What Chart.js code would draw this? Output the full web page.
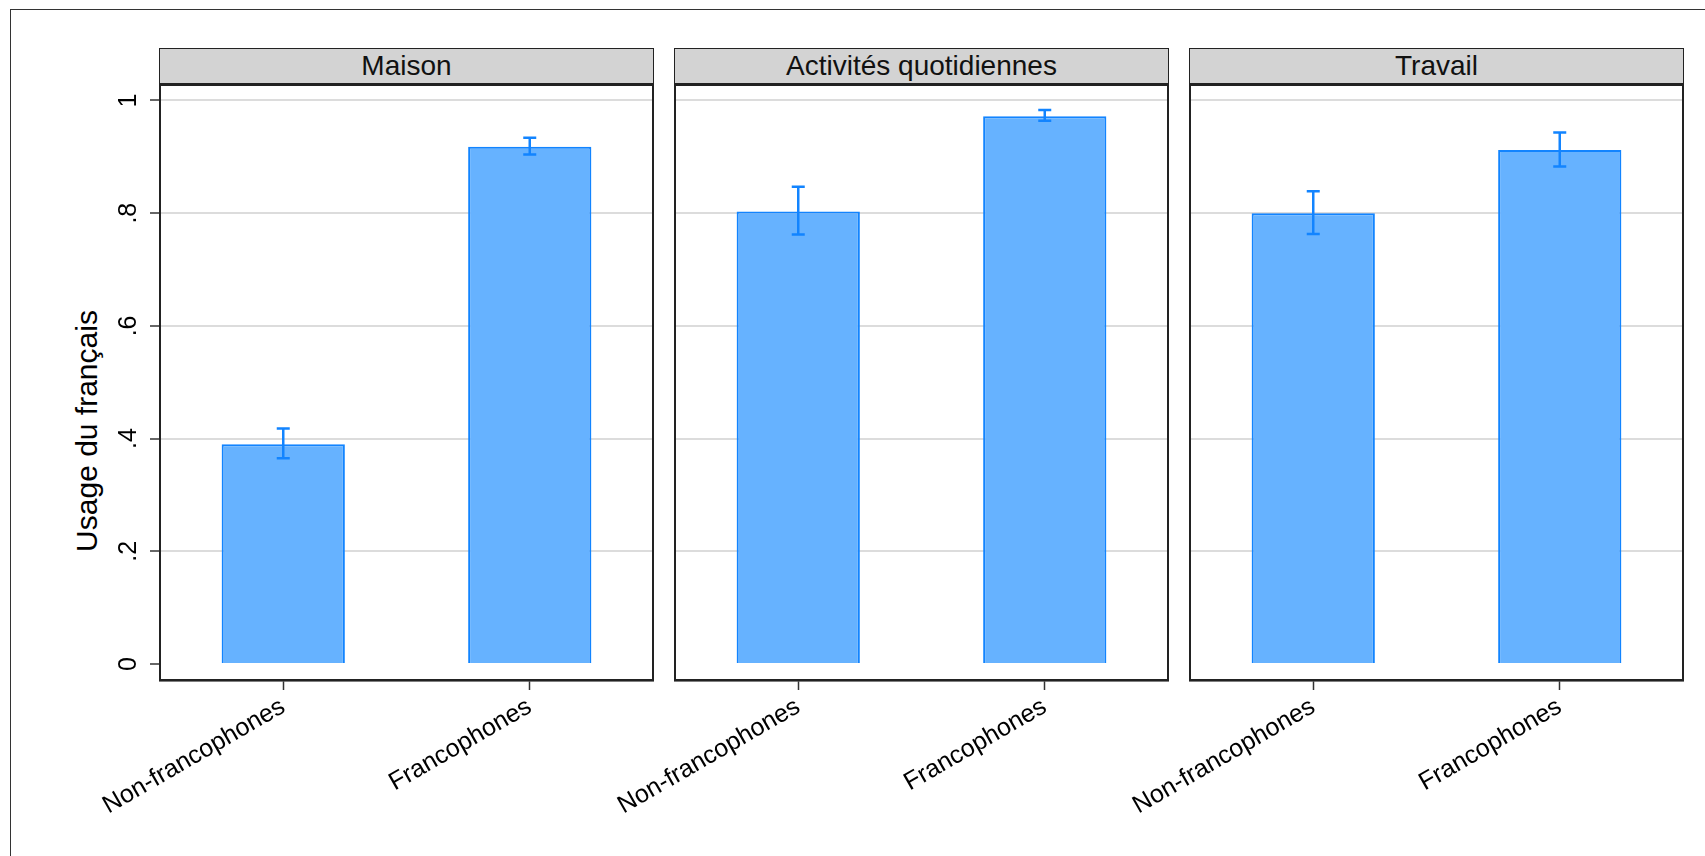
<!DOCTYPE html>
<html>
<head>
<meta charset="utf-8">
<script src="https://cdn.jsdelivr.net/npm/chart.js@4.4.1/dist/chart.umd.min.js"></script>
<style>
  body { margin: 0; width: 1705px; height: 856px; background: #fff; position: relative; overflow: hidden;
         font-family: "Liberation Sans", Arial, sans-serif; }
  #frame { position: absolute; left: 10px; top: 9px; width: 1760px; height: 900px; border: 1.5px solid #333; }
  .strip { position: absolute; top: 48px; height: 36px; width: 495px; background: #d3d3d3; border: 1.5px solid #222;
           box-sizing: border-box; text-align: center; font-size: 28px; line-height: 33px; color: #111; }
  #ytitle { position: absolute; left: 87px; top: 431px; transform: translate(-50%, -50%) rotate(-90deg);
            white-space: nowrap; font-size: 30px; color: #000; }
  canvas { position: absolute; top: 80px; }
</style>
</head>
<body>
<div id="frame"></div>
<div class="strip" id="s0"></div>
<div class="strip" id="s1"></div>
<div class="strip" id="s2"></div>
<div id="ytitle"></div>
<canvas id="c0"></canvas>
<canvas id="c1"></canvas>
<canvas id="c2"></canvas>
<script>
// domaines (panneaux) et groupes
const panels = ["Maison", "Activités quotidiennes", "Travail"];
const groups = ["Non-francophones", "Francophones"];

// moyennes et intervalles de confiance
const maison = [0.390, 0.918];
const maisonLo = [0.365, 0.904];
const maisonHi = [0.418, 0.934];

const activites = [0.803, 0.972];
const activitesLo = [0.762, 0.964];
const activitesHi = [0.847, 0.983];

const travail = [0.800, 0.912];
const travailLo = [0.763, 0.883];
const travailHi = [0.839, 0.943];

const yTicks = [0, 0.2, 0.4, 0.6, 0.8, 1];
const yTickLabels = ["0", ".2", ".4", ".6", ".8", "1"];
const yTitle = "Usage du français";

const fillColor = "rgb(102,178,255)";
const lineColor = "rgb(18,132,255)";

document.getElementById("ytitle").textContent = yTitle;

// barres d'erreur dessinées avec les échelles du graphique
const errorBars = {
    id: "errorBars",
    afterDatasetsDraw(chart, args, opts) {
        const ctx = chart.ctx;
        const xs = chart.scales.x, ys = chart.scales.y;
        ctx.save();
        ctx.strokeStyle = lineColor;
        ctx.lineWidth = 2.5;
        opts.lo.forEach((lo, i) => {
            const x = xs.getPixelForValue(i);
            const y1 = ys.getPixelForValue(lo);
            const y2 = ys.getPixelForValue(opts.hi[i]);
            ctx.beginPath();
            ctx.moveTo(x, y1); ctx.lineTo(x, y2);
            ctx.moveTo(x - 6.5, y1); ctx.lineTo(x + 6.5, y1);
            ctx.moveTo(x - 6.5, y2); ctx.lineTo(x + 6.5, y2);
            ctx.stroke();
        });
        ctx.restore();
    }
};

// cadre autour de la zone de tracé
const plotFrame = {
    id: "plotFrame",
    afterDraw(chart) {
        const a = chart.chartArea, ctx = chart.ctx;
        ctx.save();
        ctx.strokeStyle = "#222";
        ctx.lineWidth = 2;
        ctx.strokeRect(a.left, a.top, a.right - a.left, a.bottom - a.top);
        ctx.restore();
    }
};

const panelLeft = [160, 675, 1190];
const panelWidth = 493;
const canvasHeight = 776;

function noPad(s) {
    s.paddingLeft = 0; s.paddingRight = 0; s.paddingTop = 0; s.paddingBottom = 0;
}

function makePanel(i, values, lo, hi) {
    const first = i === 0;
    const axisW = first ? 100 : 220;
    const canvas = document.getElementById("c" + i);
    canvas.width = axisW + panelWidth + 4;
    canvas.height = canvasHeight;
    canvas.style.left = (panelLeft[i] - axisW) + "px";

    const strip = document.getElementById("s" + i);
    strip.textContent = panels[i];
    strip.style.left = (panelLeft[i] - 1) + "px";

    return new Chart(canvas.getContext("2d"), {
        type: "bar",
        data: {
            labels: groups,
            datasets: [{
                data: values,
                backgroundColor: fillColor,
                borderColor: lineColor,
                borderWidth: 2,
                categoryPercentage: 1,
                barPercentage: 0.5
            }]
        },
        options: {
            responsive: false,
            animation: false,
            devicePixelRatio: 1,
            layout: { padding: { top: 5, right: 4, left: 0, bottom: 0 } },
            plugins: {
                legend: { display: false },
                tooltip: { enabled: false },
                errorBars: { lo: lo, hi: hi }
            },
            scales: {
                x: {
                    afterFit: s => { s.height = 176; noPad(s); },
                    border: { display: true, color: "#000", width: 2.5 },
                    grid: { offset: false, drawOnChartArea: false, color: "#333", tickColor: "#333", tickLength: 10, tickWidth: 1.5 },
                    ticks: {
                        color: "#000", autoSkip: false, minRotation: 30, maxRotation: 30, padding: 2,
                        font: { family: "Liberation Sans", size: 25 }
                    }
                },
                y: {
                    min: -0.0284,
                    max: 1.0275,
                    afterFit: s => { s.width = axisW; noPad(s); },
                    afterBuildTicks: s => { s.ticks = yTicks.map(v => ({ value: v })); },
                    border: { display: true, color: "#222", width: 2 },
                    grid: {
                        color: c => (c.tick && c.tick.value === 0) ? "rgba(0,0,0,0)" : "#dcdcdc",
                        lineWidth: 2,
                        drawTicks: first,
                        tickColor: "#333",
                        tickLength: 10,
                        tickWidth: 1.5
                    },
                    ticks: {
                        display: first,
                        color: "#000",
                        minRotation: 90, maxRotation: 90,
                        crossAlign: "center",
                        padding: 10,
                        font: { family: "Liberation Sans", size: 25 },
                        callback: (v) => yTickLabels[yTicks.indexOf(v)]
                    }
                }
            }
        },
        plugins: [errorBars, plotFrame]
    });
}

makePanel(0, maison, maisonLo, maisonHi);
makePanel(1, activites, activitesLo, activitesHi);
makePanel(2, travail, travailLo, travailHi);
</script>
</body>
</html>
